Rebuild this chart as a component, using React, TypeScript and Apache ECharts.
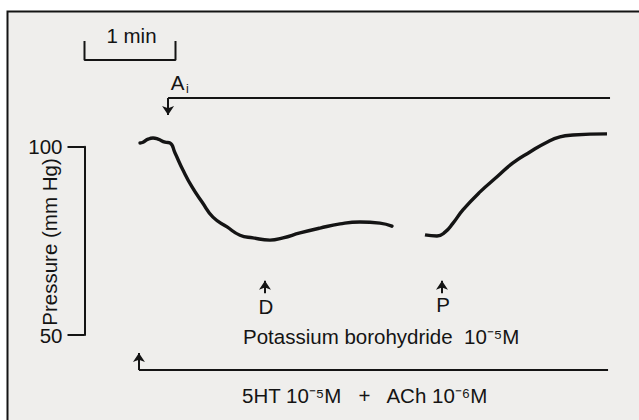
import React, { useEffect, useRef } from "react";
import * as echarts from "echarts";

// Trace of perfusion pressure (time in seconds, pressure in mm Hg)
const timeBeforeGap = [36.6, 38.6, 41.9, 45.2, 48.5, 53.1, 56.4, 59.7, 64.9, 70.9, 77.5, 84.7, 94.0, 102.5, 111.1, 122.3, 130.9, 142.1, 155.3, 168.5, 181.6, 194.8, 202.7];
const pressureBeforeGap = [101.0, 101.2, 102.0, 102.3, 102.0, 101.2, 101.0, 98.3, 93.8, 89.3, 85.3, 81.3, 78.7, 76.5, 75.8, 75.2, 75.8, 77.1, 78.4, 79.5, 80.0, 79.7, 78.9];
const timeAfterGap = [224.5, 232.4, 237.7, 243.0, 249.5, 260.8, 272.0, 282.5, 293.7, 304.9, 313.5, 322.1, 344.5];
const pressureAfterGap = [76.6, 76.3, 77.3, 79.7, 83.2, 88.0, 92.0, 95.7, 98.6, 101.2, 102.6, 103.1, 103.4];

const yTicks = [50, 100];
const scaleBarSeconds = 60; // "1 min"

// Event times (s)
const aiStart = 55.1;
const aiEnd = 346.5;
const infusionStart = 35.9;
const infusionEnd = 345.2;
const markD = 119.0;
const markP = 235.7;

const INK = "#141414";
const FONT = "'Liberation Sans', Arial, Helvetica, sans-serif";
const FS = 20.5;

export default function App() {
  const ref = useRef<HTMLDivElement>(null);

  useEffect(() => {
    if (!ref.current) return;
    const chart = echarts.init(ref.current, undefined, { renderer: "svg" });

    const before = timeBeforeGap.map((t, i) => [t, pressureBeforeGap[i]]);
    const after = timeAfterGap.map((t, i) => [t, pressureAfterGap[i]]);

    const aiLevel = 112.9;
    const aiTip = 108.4;
    const infLevel = 40.7;
    const infTip = 45.2;
    const markBase = 61.1;
    const markTip = 64.4;
    const barTop = 128.1;
    const barBottom = 123.0;

    const lineStyle = { color: INK, width: 2, opacity: 1 };

    const textStyle = (text: string, size = FS) => ({
      text,
      fontSize: size,
      fontFamily: FONT,
      fill: INK,
    });

    const option: any = {
      animation: false,
      backgroundColor: "#ffffff",
      grid: { left: 84.5, top: 146.7, width: 546, height: 188.3, containLabel: false },
      xAxis: {
        type: "value",
        min: 0,
        max: 360,
        show: false,
      },
      yAxis: {
        type: "value",
        min: yTicks[0],
        max: yTicks[yTicks.length - 1],
        interval: yTicks[1] - yTicks[0],
        axisLine: { show: true, lineStyle: { color: INK, width: 2 } },
        axisTick: { show: true, inside: false, length: 17, lineStyle: { color: INK, width: 2 } },
        axisLabel: { color: INK, fontSize: FS, fontFamily: FONT, margin: 22 },
        splitLine: { show: false },
      },
      graphic: [
        {
          type: "rect",
          z: -10,
          silent: true,
          shape: { x: 7.5, y: 11.5, width: 700, height: 500 },
          style: { fill: "#efeeec", stroke: INK, lineWidth: 2 },
        },
        {
          type: "text",
          x: 49,
          y: 242,
          rotation: Math.PI / 2,
          style: { ...textStyle("Pressure (mm Hg)"), align: "center", verticalAlign: "middle" },
        },
        { type: "text", x: 131.5, y: 35, style: { ...textStyle("1 min"), align: "center", verticalAlign: "middle" } },
        { type: "text", x: 177.5, y: 82.5, style: { ...textStyle("A"), align: "center", verticalAlign: "middle" } },
        { type: "text", x: 187.5, y: 89, style: { ...textStyle("i", 12.5), align: "center", verticalAlign: "middle" } },
        { type: "text", x: 266, y: 306.5, style: { ...textStyle("D"), align: "center", verticalAlign: "middle" } },
        { type: "text", x: 443, y: 304.5, style: { ...textStyle("P"), align: "center", verticalAlign: "middle" } },
        {
          type: "text",
          x: 243,
          y: 336,
          style: { ...textStyle("Potassium borohydride  10⁻⁵M"), align: "left", verticalAlign: "middle" },
        },
        {
          type: "text",
          x: 242,
          y: 395,
          style: { ...textStyle("5HT 10⁻⁵M   +   ACh 10⁻⁶M"), align: "left", verticalAlign: "middle" },
        },
      ],
      series: [
        {
          type: "line",
          data: before,
          smooth: 0.5,
          showSymbol: false,
          clip: false,
          lineStyle: { color: INK, width: 3.4, cap: "round" },
          z: 3,
        },
        {
          type: "line",
          data: after,
          smooth: 0.5,
          showSymbol: false,
          clip: false,
          lineStyle: { color: INK, width: 3.4, cap: "butt" },
          z: 3,
        },
        {
          // 1 min scale bar
          type: "line",
          data: [
            [0, barTop],
            [0, barBottom],
            [scaleBarSeconds, barBottom],
            [scaleBarSeconds, barTop],
          ],
          showSymbol: false,
          clip: false,
          lineStyle: lineStyle,
        },
        {
          // plain horizontal bars for the drug applications
          type: "lines",
          coordinateSystem: "cartesian2d",
          clip: false,
          symbol: ["none", "none"],
          lineStyle: lineStyle,
          data: [
            { coords: [[aiEnd, aiLevel], [aiStart, aiLevel]] },
            { coords: [[infusionStart, infLevel], [infusionEnd, infLevel]] },
          ],
        },
        {
          // arrows
          type: "lines",
          coordinateSystem: "cartesian2d",
          clip: false,
          symbol: ["none", "arrow"],
          symbolSize: [6, 9],
          lineStyle: lineStyle,
          data: [
            { coords: [[aiStart, aiLevel], [aiStart, aiTip]] },
            { coords: [[infusionStart, infLevel], [infusionStart, infTip]] },
            { coords: [[markD, markBase], [markD, markTip]] },
            { coords: [[markP, markBase], [markP, markTip]] },
          ],
        },
      ],
    };

    chart.setOption(option);
    return () => chart.dispose();
  }, []);

  return (
    <div
      ref={ref}
      style={{ position: "absolute", left: 0, top: 0, width: 639, height: 420 }}
    />
  );
}
